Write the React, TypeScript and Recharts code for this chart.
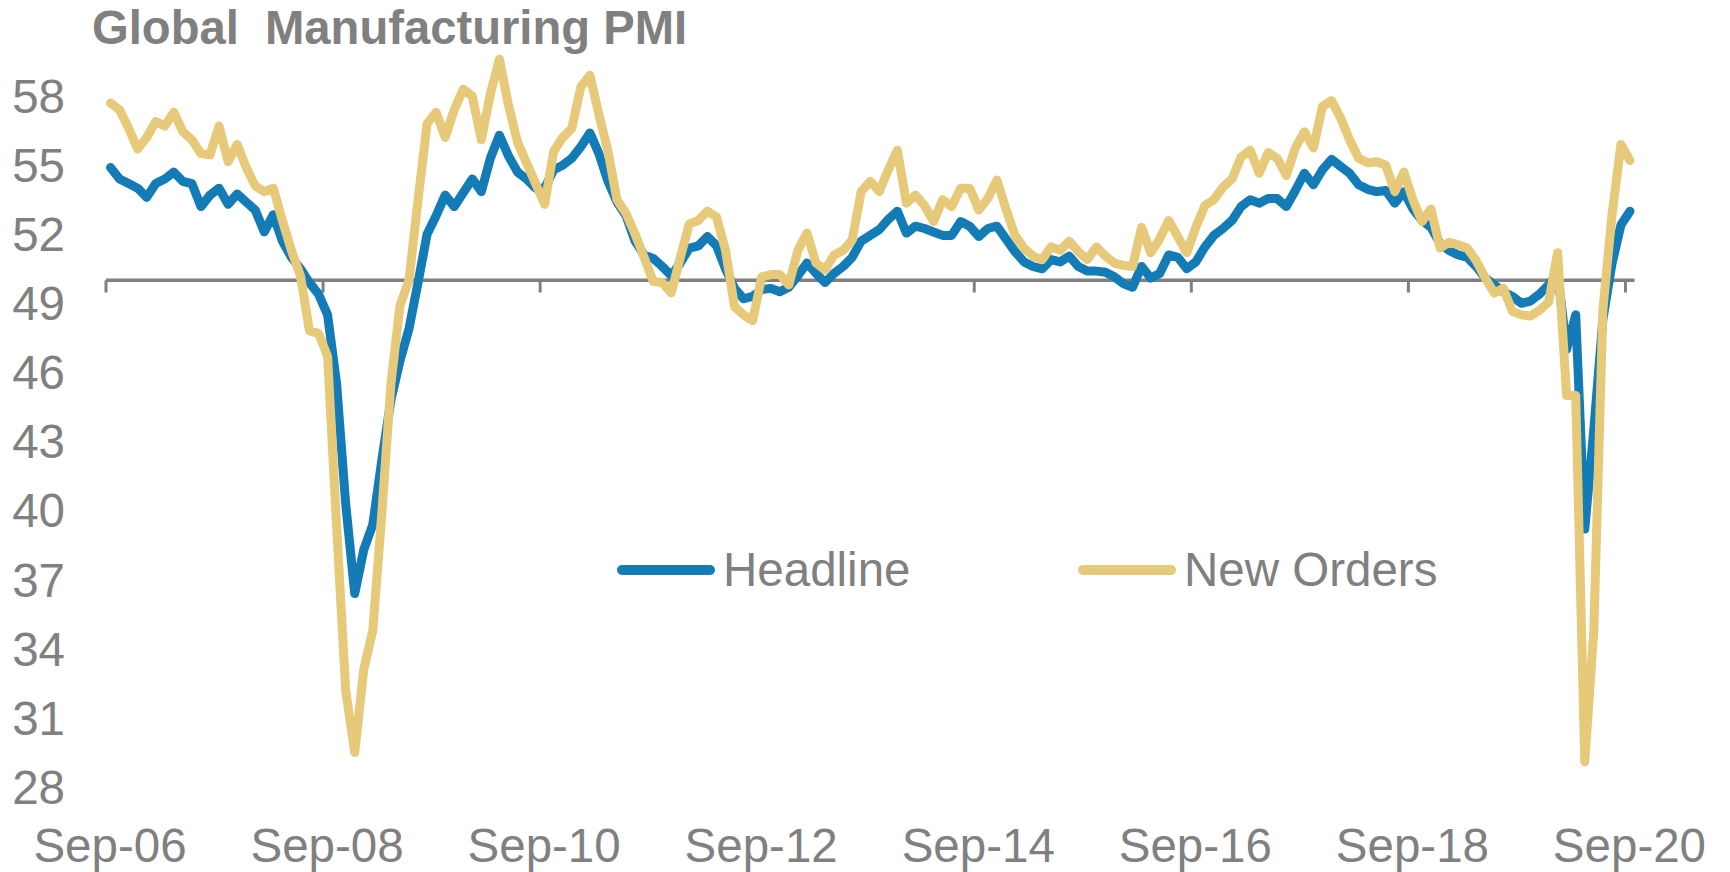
import React from 'react';
import { LineChart, Line, XAxis, YAxis, ReferenceLine, Legend } from 'recharts';

const FONT = '"Liberation Sans", Arial, sans-serif';
const GRAY = '#808080';
const BLUE = '#137BB5';
const GOLD = '#E7C97A';

const title = 'Global  Manufacturing PMI';
const seriesNames = ['Headline', 'New Orders'];
const xTicks = [0, 24, 48, 72, 96, 120, 144, 168];
const xTickLabels = ['Sep-06', 'Sep-08', 'Sep-10', 'Sep-12', 'Sep-14', 'Sep-16', 'Sep-18', 'Sep-20'];
const yTicks = [28, 31, 34, 37, 40, 43, 46, 49, 52, 55, 58];

// Monthly values, Sep-06 .. Sep-20
const headline = [
  54.9, 54.4, 54.2, 54.0, 53.6, 54.2, 54.4, 54.7, 54.3, 54.2,
  53.2, 53.7, 54.0, 53.3, 53.75, 53.4, 53.05, 52.1, 52.85, 51.7,
  51.0, 50.5, 49.9, 49.4, 48.5, 45.5, 40.3, 36.4, 38.3, 39.4,
  42.2, 44.8, 46.5, 47.9, 49.9, 52.0, 52.8, 53.7, 53.2, 53.8,
  54.4, 53.85, 55.3, 56.3, 55.4, 54.7, 54.4, 54.0, 54.0, 54.8,
  55.0, 55.3, 55.8, 56.4, 55.5, 54.3, 53.4, 52.8, 51.7, 51.1,
  50.95, 50.6, 50.2, 50.75, 51.4, 51.5, 51.9, 51.5, 50.5, 49.65,
  49.2, 49.3, 49.6, 49.65, 49.5, 49.7, 50.2, 50.75, 50.3, 49.9,
  50.3, 50.6, 51.0, 51.7, 51.95, 52.2, 52.65, 53.0, 52.05, 52.35,
  52.25, 52.1, 51.95, 51.95, 52.55, 52.35, 51.9, 52.25, 52.35, 51.8,
  51.25, 50.8, 50.6, 50.5, 50.9, 50.8, 51.05, 50.6, 50.4, 50.4,
  50.35, 50.15, 49.85, 49.7, 50.6, 50.1, 50.3, 51.1, 51.0, 50.5,
  50.8, 51.45, 51.95, 52.25, 52.6, 53.2, 53.5, 53.35, 53.55, 53.55,
  53.2, 53.9, 54.65, 54.15, 54.8, 55.25, 54.95, 54.65, 54.15, 53.95,
  53.85, 53.9, 53.35, 53.85, 53.1, 52.6, 52.3, 51.6, 51.3, 51.1,
  51.0, 50.6, 50.1, 49.8, 49.5, 49.3, 49.0, 49.1, 49.4, 49.8,
  50.3, 47.0, 48.5, 39.2, 43.5, 48.3, 50.7, 52.4, 53.0,
];

const newOrders = [
  57.7, 57.4, 56.6, 55.7, 56.2, 56.9, 56.7, 57.3, 56.45, 56.1,
  55.5, 55.45, 56.7, 55.15, 55.9, 54.9, 54.1, 53.85, 54.0, 52.6,
  51.3, 50.2, 47.8, 47.7, 46.7, 39.3, 32.2, 29.5, 33.1, 34.8,
  39.9, 45.5, 48.9, 50.0, 53.5, 56.8, 57.3, 56.2, 57.4, 58.3,
  58.0, 56.1, 58.1, 59.6, 57.6, 56.0, 55.1, 54.2, 53.3, 55.6,
  56.2, 56.6, 58.4, 58.9, 57.2, 55.6, 53.5, 52.9, 52.0, 51.0,
  49.95, 49.9, 49.45, 51.0, 52.45, 52.6, 53.0, 52.75, 51.3, 48.85,
  48.5, 48.25, 50.15, 50.25, 50.25, 49.8, 51.3, 52.05, 50.75, 50.45,
  51.1, 51.3, 51.75, 53.85, 54.3, 53.85, 54.8, 55.65, 53.35, 53.7,
  53.25, 52.55, 53.5, 53.2, 54.0, 54.0, 53.05, 53.55, 54.35, 53.1,
  51.95, 51.4, 51.05, 50.9, 51.45, 51.3, 51.7, 51.25, 50.9, 51.45,
  51.05, 50.75, 50.65, 50.6, 52.3, 51.2, 51.8, 52.6, 51.9, 51.2,
  52.3, 53.25, 53.5, 54.05, 54.4, 55.35, 55.65, 54.65, 55.55, 55.3,
  54.55, 55.75, 56.45, 55.75, 57.55, 57.8, 57.05, 56.1, 55.3, 55.1,
  55.15, 55.0, 53.85, 54.7, 53.5, 52.55, 53.1, 51.4, 51.65, 51.55,
  51.4, 50.85, 50.1, 49.45, 49.65, 48.65, 48.5, 48.45, 48.7, 49.05,
  51.2, 45.0, 45.0, 29.1, 34.8, 48.7, 52.8, 55.9, 55.2,
];

// each month plotted at its middle on a month-based numeric axis
const data = headline.map((h, k) => ({ t: k + 0.5, headline: h, newOrders: newOrders[k] }));

const renderLegend = (props: any) => {
  const payload = props.payload || [];
  const offsets = [9, 470];
  return (
    <div style={{ position: 'relative', width: 800, height: 60, fontFamily: FONT, fontSize: 47.5, color: GRAY }}>
      {payload.map((p: any, i: number) => (
        <div
          key={p.value}
          style={{ position: 'absolute', left: offsets[i], top: 0, height: 60, display: 'flex', alignItems: 'center', whiteSpace: 'nowrap' }}
        >
          <svg width={98} height={16} style={{ display: 'block' }}>
            <line x1={5} x2={93} y1={8} y2={8} stroke={p.color} strokeWidth={10} strokeLinecap="round" />
          </svg>
          <span style={{ marginLeft: 8, lineHeight: '60px' }}>{p.value}</span>
        </div>
      ))}
    </div>
  );
};

export default function App() {
  return (
    <div style={{ position: 'relative', width: 1714, height: 864 }}>
      <div
        style={{
          position: 'absolute',
          left: 84,
          top: -4,
          fontFamily: FONT,
          fontSize: 47.2,
          fontWeight: 'bold',
          color: GRAY,
          whiteSpace: 'pre',
          lineHeight: '47px',
          zIndex: 2,
        }}
      >
        {title}
      </div>
      <LineChart width={1714} height={864} data={data} margin={{ top: 42, right: 87.5, bottom: 0, left: 0 }}>
        <XAxis
          dataKey="t"
          type="number"
          domain={[0, 169]}
          ticks={xTicks}
          interval={0}
          tickFormatter={(v: number) => xTickLabels[xTicks.indexOf(v)]}
          axisLine={false}
          tickLine={false}
          tickSize={0}
          tickMargin={41}
          height={85}
          tick={{ fill: GRAY, fontSize: 47.5, fontFamily: FONT, dx: 4 }}
        />
        <YAxis
          type="number"
          domain={[28, 60]}
          ticks={yTicks}
          interval={0}
          axisLine={false}
          tickLine={false}
          tickSize={0}
          tickMargin={41}
          width={98}
          tick={{ fill: GRAY, fontSize: 47.5, fontFamily: FONT }}
        />
        <ReferenceLine y={50} stroke={GRAY} strokeWidth={3.5} />
        {xTicks.map((t) => (
          <ReferenceLine
            key={t}
            segment={[{ x: t, y: 50 }, { x: t, y: 49.47 }]}
            stroke={GRAY}
            strokeWidth={3}
          />
        ))}
        <Line
          type="linear"
          dataKey="headline"
          name={seriesNames[0]}
          stroke={BLUE}
          strokeWidth={9}
          dot={false}
          activeDot={false}
          strokeLinejoin="round"
          strokeLinecap="round"
          isAnimationActive={false}
        />
        <Line
          type="linear"
          dataKey="newOrders"
          name={seriesNames[1]}
          stroke={GOLD}
          strokeWidth={9}
          dot={false}
          activeDot={false}
          strokeLinejoin="round"
          strokeLinecap="round"
          isAnimationActive={false}
        />
        <Legend
          layout="horizontal"
          verticalAlign="middle"
          align="center"
          content={renderLegend}
          wrapperStyle={{ position: 'absolute', left: 600, top: 532, width: 800, height: 60 }}
        />
      </LineChart>
    </div>
  );
}
